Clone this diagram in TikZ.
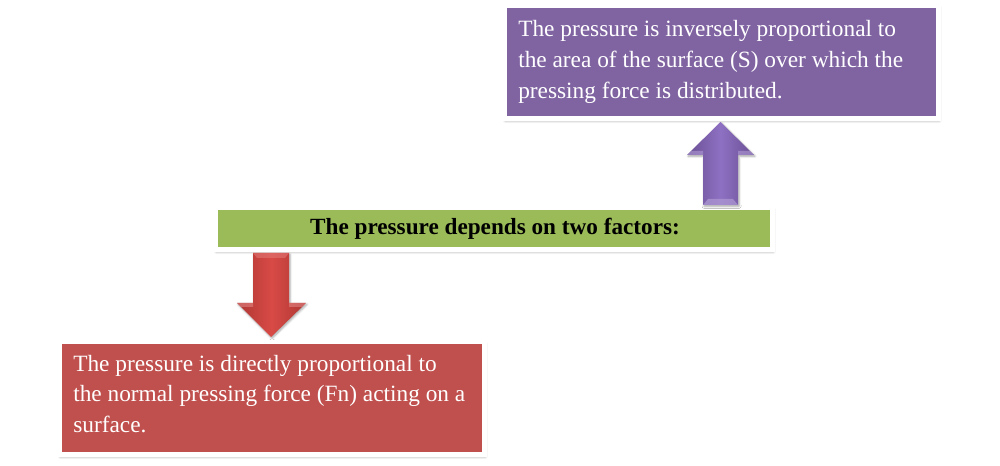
\documentclass[tikz,border=0pt]{standalone}
\usepackage{fontspec}
\setmainfont{Liberation Serif}
\usetikzlibrary{shadows.blur,calc}
\definecolor{purp}{HTML}{8064A2}
\definecolor{grn}{HTML}{9BBB59}
\definecolor{redb}{HTML}{C0504D}
\definecolor{purpD}{HTML}{6A4F94}
\definecolor{purpL}{HTML}{8E70C2}
\definecolor{redD}{HTML}{AE3733}
\definecolor{redL}{HTML}{D84A46}
\begin{document}
\begin{tikzpicture}[x=0.75pt,y=-0.75pt,
  box/.style={draw=white,line width=3.75pt,rectangle,inner sep=0pt,
    blur shadow={shadow xshift=0.6pt,shadow yshift=-1.6pt,shadow blur steps=6,shadow opacity=40,shadow blur radius=2pt}},
  txt/.style={font=\fontsize{17.5pt}{23.3pt}\selectfont,align=left,inner sep=0pt,anchor=north west,text=white},
  barrow/.style={blur shadow={shadow xshift=0.8pt,shadow yshift=-1pt,shadow blur steps=4,shadow opacity=35,shadow blur radius=1.5pt}}]
\useasboundingbox (0,0) rectangle (1000,466);
% boxes
\node[box,fill=purp,minimum width=325.5pt,minimum height=84.75pt] (top) at (721.5,62) {};
\node[box,fill=grn,minimum width=417.75pt,minimum height=31.5pt] (mid) at (494,228.5) {};
\node[box,fill=redb,minimum width=318.75pt,minimum height=84.75pt] (bot) at (272,398) {};
% texts
\node[txt] (ttop) at (518,20) {The pressure is inversely proportional to\\the area of the surface (S) over which the\\pressing force is distributed.};
\node[font=\fontsize{17.4pt}{18pt}\selectfont\bfseries,inner sep=0pt,anchor=base] (tmid) at (495,235) {The pressure depends on two factors:};
\node[txt,font=\fontsize{17.5pt}{22.9pt}\selectfont] (tbot) at (73,355) {The pressure is directly proportional to\\the normal pressing force (Fn) acting on a\\surface.};
% purple up arrow
\path[barrow,left color=purpD,right color=purpD,middle color=purpL]
  (703,205) -- (703,155) -- (687,155) -- (720.5,122) -- (754,155) -- (738,155) -- (738,205) -- cycle;
\fill[purpL!70!white,opacity=0.6] (687,155) -- (703,155) -- (703,151) -- (691,151) -- cycle;
\fill[purpL!70!white,opacity=0.6] (754,155) -- (738,155) -- (738,151) -- (750,151) -- cycle;
\fill[purpL!70!white,opacity=0.7] (703,205) -- (738,205) -- (733,199) -- (708,199) -- cycle;
% red down arrow
\path[barrow,left color=redD,right color=redD,middle color=redL]
  (253,253) -- (253,303) -- (237,303) -- (271,337) -- (306,303) -- (289,303) -- (289,253) -- cycle;
\fill[redL!70!white,opacity=0.5] (253,253) -- (289,253) -- (285,258) -- (257,258) -- cycle;
\fill[redL!60!white,opacity=0.5] (237,303) -- (253,303) -- (253,307) -- (241,307) -- cycle;
\fill[redL!60!white,opacity=0.5] (306,303) -- (289,303) -- (289,307) -- (302,307) -- cycle;
\end{tikzpicture}
\end{document}
